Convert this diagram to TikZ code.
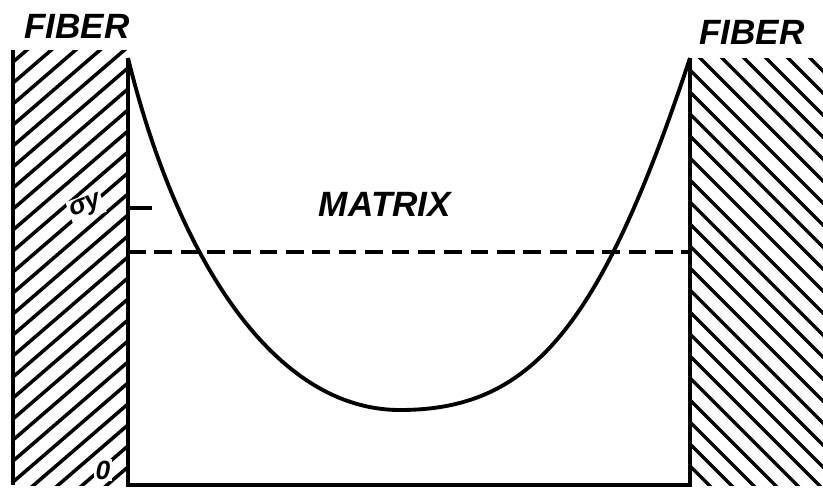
\documentclass[tikz,border=0pt]{standalone}
\usepackage{fontspec}
\setsansfont{Liberation Sans}
\usepackage{tikz}
\usetikzlibrary{positioning}

\begin{document}
\begin{tikzpicture}[x=0.02cm,y=-0.02cm,
    every node/.style={font=\sffamily\bfseries\itshape\fontsize{20}{20}\selectfont},
    small/.style={font=\sffamily\bfseries\itshape\fontsize{15}{15}\selectfont,
        fill=white,inner sep=1pt},
    wall/.style={line width=2.4pt},
    hatchline/.style={line width=2pt},
    stresscurve/.style={line width=2.2pt},
    yieldline/.style={line width=2.2pt,dash pattern=on 10pt off 5pt}]
    \useasboundingbox (0,0) rectangle (823,491);
    % corners of the two fibers and the matrix
    \coordinate (lfTop) at (128,58);
    \coordinate (lfBot) at (128,485);
    \coordinate (rfTop) at (690,58);
    \coordinate (rfBot) at (690,485);
    \coordinate (low) at (400,410);
    % left fiber hatching
    \begin{scope}
        \clip (13,50) rectangle (128,485);
        \foreach \y in {62,83,...,640}
            \draw[hatchline] (13,\y) -- ++(130,-112);
    \end{scope}
    % right fiber hatching
    \begin{scope}
        \clip (690,58) rectangle (823,485);
        \foreach \y in {-150,-128,...,490}
            \draw[hatchline] (690,\y) -- ++(140,140);
    \end{scope}
    % walls and bottom
    \draw[wall] (13,50) -- (13,485);
    \draw[wall] (lfTop) -- (lfBot) -- (rfBot) -- (rfTop);
    % stress in the matrix
    \draw[stresscurve] (lfTop) .. controls (175,250) and (270,410) .. (low)
        .. controls (530,410) and (600,330) .. (rfTop);
    \draw[yieldline] (128,252) -- (690,252);
    \coordinate (tick) at (152,208);
    \draw[wall] (128,208) -- (tick);
    \node (sy) at (86,207) [small,rotate=20] {σy};
    \node (zero) at (103,470) [small] {0};
    \node (matrix) at (385,204) {MATRIX};
    \node (fiberL) at (77,26) {FIBER};
    \node (fiberR) at (752,32) {FIBER};
\end{tikzpicture}
\end{document}
